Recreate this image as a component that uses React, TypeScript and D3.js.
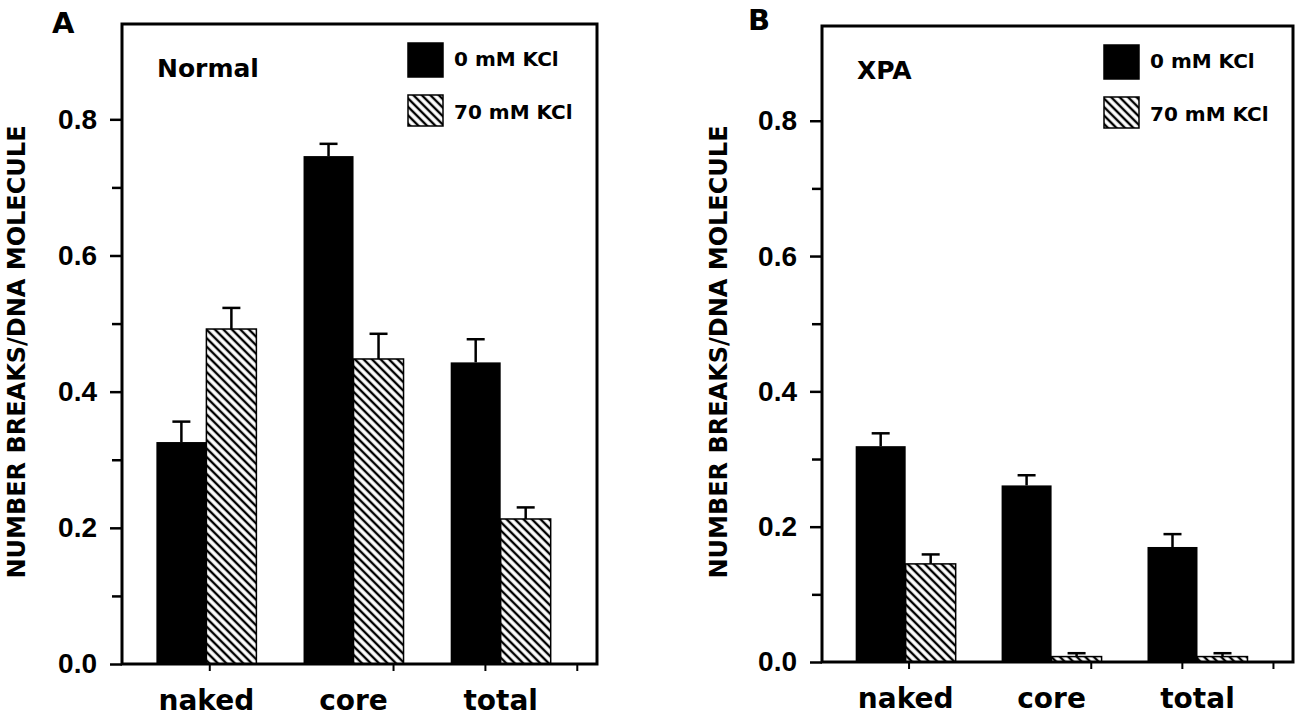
import React, { useEffect, useRef } from "react";
import * as d3 from "d3";

// values (breaks per DNA molecule)
const categories = ["naked", "core", "total"];
const seriesLabels = ["0 mM KCl", "70 mM KCl"];

const normal0 = [0.326, 0.746, 0.443];
const normal0Err = [0.03, 0.018, 0.034];
const normal70 = [0.492, 0.448, 0.213];
const normal70Err = [0.031, 0.037, 0.017];

const xpa0 = [0.319, 0.261, 0.17];
const xpa0Err = [0.019, 0.015, 0.019];
const xpa70 = [0.145, 0.008, 0.008];
const xpa70Err = [0.014, 0.005, 0.005];

const yMajorTicks = [0, 0.2, 0.4, 0.6, 0.8];
const yMinorTicks = [0.1, 0.3, 0.5, 0.7];
const xTickValues = [1, 3, 4, 5];

const yTitle = "NUMBER BREAKS/DNA MOLECULE";
const FONT = "'DejaVu Sans', 'Liberation Sans', Arial, sans-serif";
const TICK_FONT = "'Liberation Sans', Arial, sans-serif";

interface PanelConfig {
  left: number;
  right: number;
  top: number;
  bottom: number;
  letter: string;
  letterX: number;
  letterY: number;
  name: string;
  titleX: number;
  v0: number[];
  e0: number[];
  v70: number[];
  e70: number[];
}

const panels: PanelConfig[] = [
  {
    left: 122, right: 597, top: 24, bottom: 664,
    letter: "A", letterX: 52, letterY: 33, name: "Normal", titleX: 25,
    v0: normal0, e0: normal0Err, v70: normal70, e70: normal70Err,
  },
  {
    left: 822, right: 1293, top: 26, bottom: 662,
    letter: "B", letterX: 748, letterY: 30, name: "XPA", titleX: 727,
    v0: xpa0, e0: xpa0Err, v70: xpa70, e70: xpa70Err,
  },
];

function drawPanel(svg: d3.Selection<SVGSVGElement, unknown, null, undefined>, p: PanelConfig) {
  const g = svg.append("g");
  const barW = 50;

  const y = d3.scaleLinear().domain([0, 0.94]).range([p.bottom, p.top]);
  const x = d3
    .scalePoint<string>()
    .domain(categories)
    .range([p.left, p.right])
    .padding(0.614)
    .align(0.467);
  const xt = d3.scaleLinear().domain([0.05, 5.22]).range([p.left, p.right]);

  // y axis: major + minor ticks
  const major = g
    .append("g")
    .attr("transform", `translate(${p.left},0)`)
    .call(
      d3
        .axisLeft(y)
        .tickValues(yMajorTicks)
        .tickSize(12)
        .tickPadding(13)
        .tickFormat(d3.format(".1f") as any)
    );
  major.select(".domain").remove();
  major.selectAll("line").attr("stroke", "#000").attr("stroke-width", 2.5);
  major
    .selectAll("text")
    .attr("fill", "#000")
    .style("font-family", TICK_FONT)
    .style("font-weight", "bold")
    .style("font-size", "28px");

  const minor = g
    .append("g")
    .attr("transform", `translate(${p.left},0)`)
    .call(d3.axisLeft(y).tickValues(yMinorTicks).tickSize(10).tickFormat(() => ""));
  minor.select(".domain").remove();
  minor.selectAll("line").attr("stroke", "#000").attr("stroke-width", 2.5);

  // bottom ticks
  const bottom = g
    .append("g")
    .attr("transform", `translate(0,${p.bottom})`)
    .call(d3.axisBottom(xt).tickValues(xTickValues).tickSize(7).tickFormat(() => ""));
  bottom.select(".domain").remove();
  bottom.selectAll("line").attr("stroke", "#000").attr("stroke-width", 2);

  // bars
  const rows = categories.map((c, i) => ({
    c,
    v0: p.v0[i],
    e0: p.e0[i],
    v70: p.v70[i],
    e70: p.e70[i],
  }));

  const drawErr = (cx: number, v: number, e: number) => {
    g.append("line")
      .attr("x1", cx).attr("x2", cx)
      .attr("y1", y(v)).attr("y2", y(v + e))
      .attr("stroke", "#000").attr("stroke-width", 2.5);
    g.append("line")
      .attr("x1", cx - 9).attr("x2", cx + 9)
      .attr("y1", y(v + e)).attr("y2", y(v + e))
      .attr("stroke", "#000").attr("stroke-width", 2.5);
  };

  rows.forEach((r) => {
    const cx = x(r.c) as number;
    g.append("rect")
      .attr("x", cx - barW)
      .attr("y", y(r.v0))
      .attr("width", barW)
      .attr("height", y(0) - y(r.v0))
      .attr("fill", "#000");
    drawErr(cx - barW / 2, r.v0, r.e0);

    g.append("rect")
      .attr("x", cx)
      .attr("y", y(r.v70))
      .attr("width", barW)
      .attr("height", y(0) - y(r.v70))
      .attr("fill", "url(#hatch)")
      .attr("stroke", "#000")
      .attr("stroke-width", 1.5);
    drawErr(cx + barW / 2, r.v70, r.e70);
  });

  // frame
  g.append("rect")
    .attr("x", p.left)
    .attr("y", p.top)
    .attr("width", p.right - p.left)
    .attr("height", p.bottom - p.top)
    .attr("fill", "none")
    .attr("stroke", "#000")
    .attr("stroke-width", 3);

  // category labels
  g.selectAll(".cat")
    .data(categories)
    .enter()
    .append("text")
    .attr("x", (d) => x(d) as number)
    .attr("y", p.bottom + 46)
    .attr("text-anchor", "middle")
    .style("font-family", FONT)
    .style("font-weight", "bold")
    .style("font-size", "28px")
    .text((d) => d);

  // y title
  g.append("text")
    .attr("transform", `translate(${p.titleX},${(p.top + p.bottom) / 2 + 8}) rotate(-90)`)
    .attr("text-anchor", "middle")
    .style("font-family", FONT)
    .style("font-weight", "bold")
    .style("font-size", "24px")
    .text(yTitle);

  // panel letter and name
  g.append("text")
    .attr("x", p.letterX)
    .attr("y", p.letterY)
    .style("font-family", FONT)
    .style("font-weight", "bold")
    .style("font-size", "29px")
    .text(p.letter);

  g.append("text")
    .attr("x", p.left + 35)
    .attr("y", p.top + 53)
    .style("font-family", FONT)
    .style("font-weight", "bold")
    .style("font-size", "25px")
    .text(p.name);

  // legend
  const lx = p.right - 189;
  const legend = [
    { label: seriesLabels[0], fill: "#000", y0: p.top + 19, h: 34, ty: p.top + 42 },
    { label: seriesLabels[1], fill: "url(#hatch)", y0: p.top + 71, h: 31, ty: p.top + 95 },
  ];
  legend.forEach((l) => {
    g.append("rect")
      .attr("x", lx)
      .attr("y", l.y0)
      .attr("width", 35)
      .attr("height", l.h)
      .attr("fill", l.fill)
      .attr("stroke", "#000")
      .attr("stroke-width", 1.5);
    g.append("text")
      .attr("x", lx + 46)
      .attr("y", l.ty)
      .style("font-family", FONT)
      .style("font-weight", "bold")
      .style("font-size", "20px")
      .text(l.label);
  });
}

const App: React.FC = () => {
  const svgRef = useRef<SVGSVGElement | null>(null);

  useEffect(() => {
    const svg = d3.select(svgRef.current as SVGSVGElement);
    svg.selectAll("*").remove();

    const pattern = svg
      .append("defs")
      .append("pattern")
      .attr("id", "hatch")
      .attr("patternUnits", "userSpaceOnUse")
      .attr("width", 6)
      .attr("height", 6)
      .attr("patternTransform", "rotate(-45)");
    pattern.append("rect").attr("width", 6).attr("height", 6).attr("fill", "#fff");
    pattern
      .append("line")
      .attr("x1", 3).attr("x2", 3)
      .attr("y1", 0).attr("y2", 6)
      .attr("stroke", "#000")
      .attr("stroke-width", 2.4);

    panels.forEach((p) => drawPanel(svg, p));
  }, []);

  return (
    <svg
      ref={svgRef}
      width={1301}
      height={722}
      style={{ position: "absolute", left: 0, top: 0, background: "#fff" }}
    />
  );
};

export default App;
